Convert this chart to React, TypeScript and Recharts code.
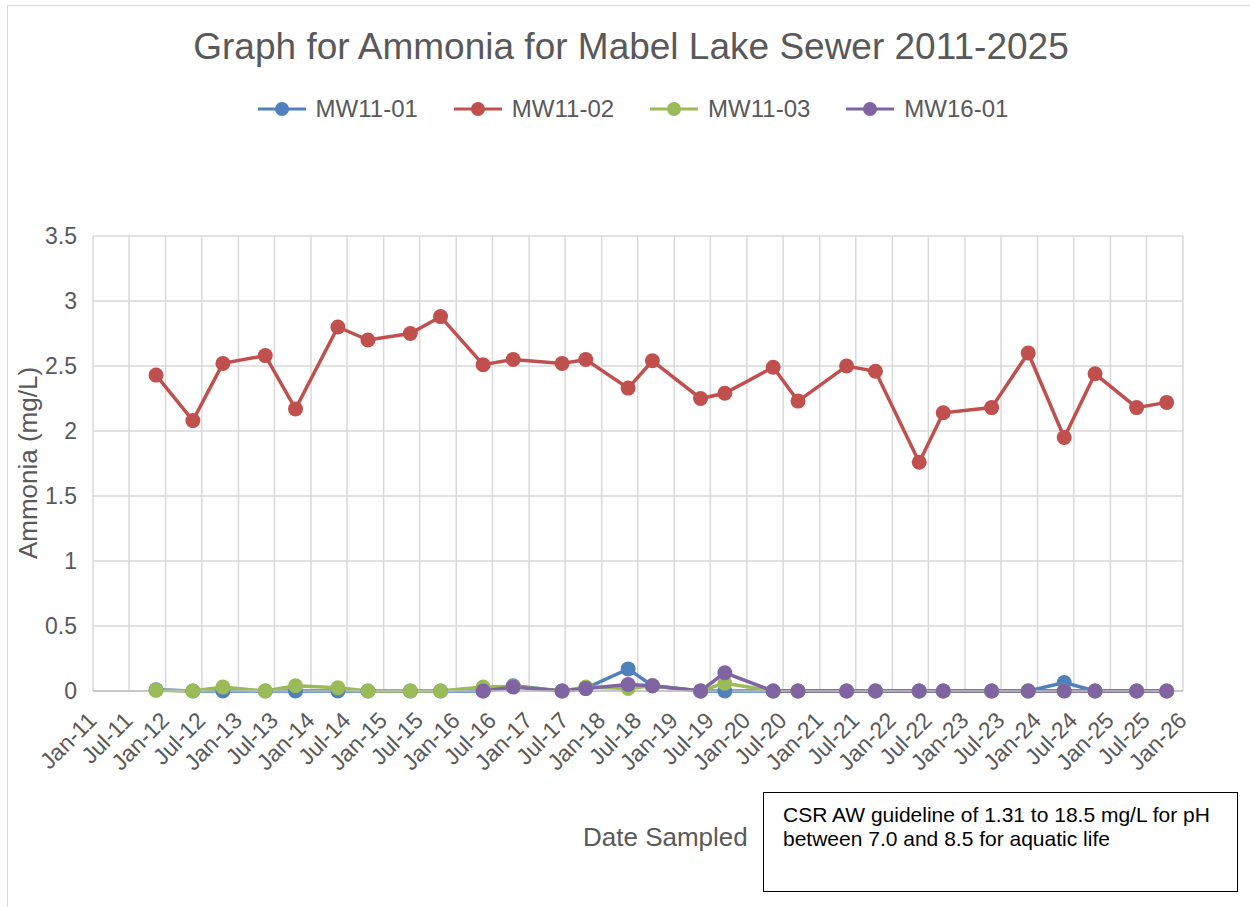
import React from 'react';
import { LineChart, Line, XAxis, YAxis, CartesianGrid } from 'recharts';

// sample dates (one per sampling event)
const sampleDates = [
  '2011-11-14', '2012-05-17', '2012-10-15', '2013-05-16', '2013-10-15',
  '2014-05-16', '2014-10-14', '2015-05-15', '2015-10-14', '2016-05-15',
  '2016-10-13', '2017-06-16', '2017-10-13', '2018-05-14', '2018-09-13',
  '2019-05-13', '2019-09-12', '2020-05-12', '2020-09-14', '2021-05-16',
  '2021-10-08', '2022-05-16', '2022-09-14', '2023-05-15', '2023-11-15',
  '2024-05-14', '2024-10-16', '2025-05-13', '2025-10-11',
];

const mw1101 = [
  0.01, 0, 0, 0, 0, 0, 0, 0, 0, 0,
  0.04, 0, 0.02, 0.17, 0.04, 0, 0, 0, 0, 0,
  0, 0, 0, 0, 0, 0.065, 0, 0, 0,
];
const mw1102 = [
  2.43, 2.08, 2.52, 2.58, 2.17, 2.8, 2.7, 2.75, 2.88, 2.51,
  2.55, 2.52, 2.55, 2.33, 2.54, 2.25, 2.29, 2.49, 2.23, 2.5,
  2.46, 1.76, 2.14, 2.18, 2.6, 1.95, 2.44, 2.18, 2.22,
];
const mw1103 = [
  0.005, 0, 0.03, 0, 0.04, 0.025, 0, 0, 0, 0.03,
  0.035, 0, 0.03, 0.02, 0.04, 0, 0.06, 0, 0, 0,
  0, 0, 0, 0, 0, 0, 0, 0, 0,
];
const mw1601 = [
  null, null, null, null, null, null, null, null, null, 0,
  0.03, 0, 0.02, 0.05, 0.04, 0, 0.14, 0, 0, 0,
  0, 0, 0, 0, 0, 0, 0, 0, 0,
];

const xTickDates = [
  '2011-01-01', '2011-07-01', '2012-01-01', '2012-07-01', '2013-01-01', '2013-07-01',
  '2014-01-01', '2014-07-01', '2015-01-01', '2015-07-01', '2016-01-01', '2016-07-01',
  '2017-01-01', '2017-07-01', '2018-01-01', '2018-07-01', '2019-01-01', '2019-07-01',
  '2020-01-01', '2020-07-01', '2021-01-01', '2021-07-01', '2022-01-01', '2022-07-01',
  '2023-01-01', '2023-07-01', '2024-01-01', '2024-07-01', '2025-01-01', '2025-07-01',
  '2026-01-01',
];
const yTicks = [0, 0.5, 1, 1.5, 2, 2.5, 3, 3.5];

const series = [
  { key: 'mw1101', name: 'MW11-01', color: '#4F81BD' },
  { key: 'mw1102', name: 'MW11-02', color: '#C0504D' },
  { key: 'mw1103', name: 'MW11-03', color: '#9BBB59' },
  { key: 'mw1601', name: 'MW16-01', color: '#8064A2' },
];

const data = sampleDates.map((d, i) => ({
  t: Date.parse(d),
  mw1101: mw1101[i],
  mw1102: mw1102[i],
  mw1103: mw1103[i],
  mw1601: mw1601[i],
}));

const xTicks = xTickDates.map((d) => Date.parse(d));
const MONTHS = ['Jan', 'Feb', 'Mar', 'Apr', 'May', 'Jun', 'Jul', 'Aug', 'Sep', 'Oct', 'Nov', 'Dec'];
const fmtDate = (v: number) => {
  const d = new Date(v);
  return `${MONTHS[d.getUTCMonth()]}-${String(d.getUTCFullYear()).slice(2)}`;
};

const FONT = '"Liberation Sans", Arial, sans-serif';
const GRAY = '#595959';

const XTick = (props: any) => {
  const { x, y, payload } = props;
  return (
    <g transform={`translate(${x + 5},${y + 29}) rotate(-45)`}>
      <text textAnchor="end" fill={GRAY} fontSize={23} fontFamily={FONT}>
        {fmtDate(payload.value)}
      </text>
    </g>
  );
};

const YTick = (props: any) => {
  const { x, y, payload } = props;
  return (
    <text x={x - 14} y={y} dy="0.35em" textAnchor="end" fill={GRAY} fontSize={23} fontFamily={FONT}>
      {payload.value}
    </text>
  );
};

const ChartLegend = () => (
  <div style={{ position: 'absolute', left: 0, top: 95, width: 1266, display: 'flex', justifyContent: 'center', alignItems: 'center', fontFamily: FONT, fontSize: 24, color: GRAY }}>
    {series.map((s) => (
      <div key={s.key} style={{ display: 'flex', alignItems: 'center', margin: '0 18px' }}>
        <svg width={48} height={16} style={{ marginRight: 10 }}>
          <line x1={0} y1={8} x2={48} y2={8} stroke={s.color} strokeWidth={3} />
          <circle cx={24} cy={8} r={7} fill={s.color} />
        </svg>
        <span>{s.name}</span>
      </div>
    ))}
  </div>
);

export default function App() {
  return (
    <div style={{ position: 'absolute', left: 0, top: 0, width: 1250, height: 907, background: '#fff', overflow: 'hidden' }}>
      <div style={{ position: 'absolute', left: 7, top: 5, width: 1260, height: 920, borderLeft: '1px solid #d9d9d9', borderTop: '1px solid #d9d9d9' }} />
      <div style={{ position: 'absolute', left: 0, top: 26, width: 1262, textAlign: 'center', fontFamily: FONT, fontSize: 37, color: GRAY }}>
        Graph for Ammonia for Mabel Lake Sewer 2011-2025
      </div>
      <ChartLegend />
      <LineChart width={1250} height={907} data={data} margin={{ top: 236, right: 67, bottom: 186, left: 33 }} style={{ position: 'absolute', left: 0, top: 0 }}>
        <CartesianGrid stroke="#d9d9d9" strokeWidth={1.5} />
        <XAxis
          dataKey="t"
          type="number"
          scale="time"
          domain={[xTicks[0], xTicks[xTicks.length - 1]]}
          ticks={xTicks}
          interval={0}
          height={30}
          tickLine={false}
          tickSize={0}
          stroke="#bfbfbf"
          strokeWidth={1.5}
          tick={<XTick />}
        />
        <YAxis
          type="number"
          domain={[0, 3.5]}
          ticks={yTicks}
          width={60}
          axisLine={false}
          tickLine={false}
          tickSize={0}
          tick={<YTick />}
        />
        {series.map((s) => (
          <Line
            key={s.key}
            type="linear"
            dataKey={s.key}
            name={s.name}
            stroke={s.color}
            strokeWidth={3.5}
            dot={{ r: 7.5, fill: s.color, stroke: s.color, strokeWidth: 0 }}
            activeDot={false}
            isAnimationActive={false}
          />
        ))}
      </LineChart>
      <div style={{ position: 'absolute', left: 10, top: 463, width: 0, height: 0 }}>
        <div style={{ position: 'absolute', transform: 'translate(-50%, -50%) rotate(-90deg)', left: 18, top: 0, whiteSpace: 'nowrap', fontFamily: FONT, fontSize: 26, color: GRAY }}>
          Ammonia (mg/L)
        </div>
      </div>
      <div style={{ position: 'absolute', left: 583, top: 822, fontFamily: FONT, fontSize: 26, color: GRAY, whiteSpace: 'nowrap' }}>
        Date Sampled
      </div>
      <div style={{ position: 'absolute', left: 763, top: 792, width: 475, height: 100, boxSizing: 'border-box', border: '1.5px solid #000', padding: '10px 0 0 19px', fontFamily: FONT, fontSize: 21, lineHeight: '24px', color: '#000' }}>
        CSR AW guideline of 1.31 to 18.5 mg/L for pH
        <br />
        between 7.0 and 8.5 for aquatic life
      </div>
    </div>
  );
}
